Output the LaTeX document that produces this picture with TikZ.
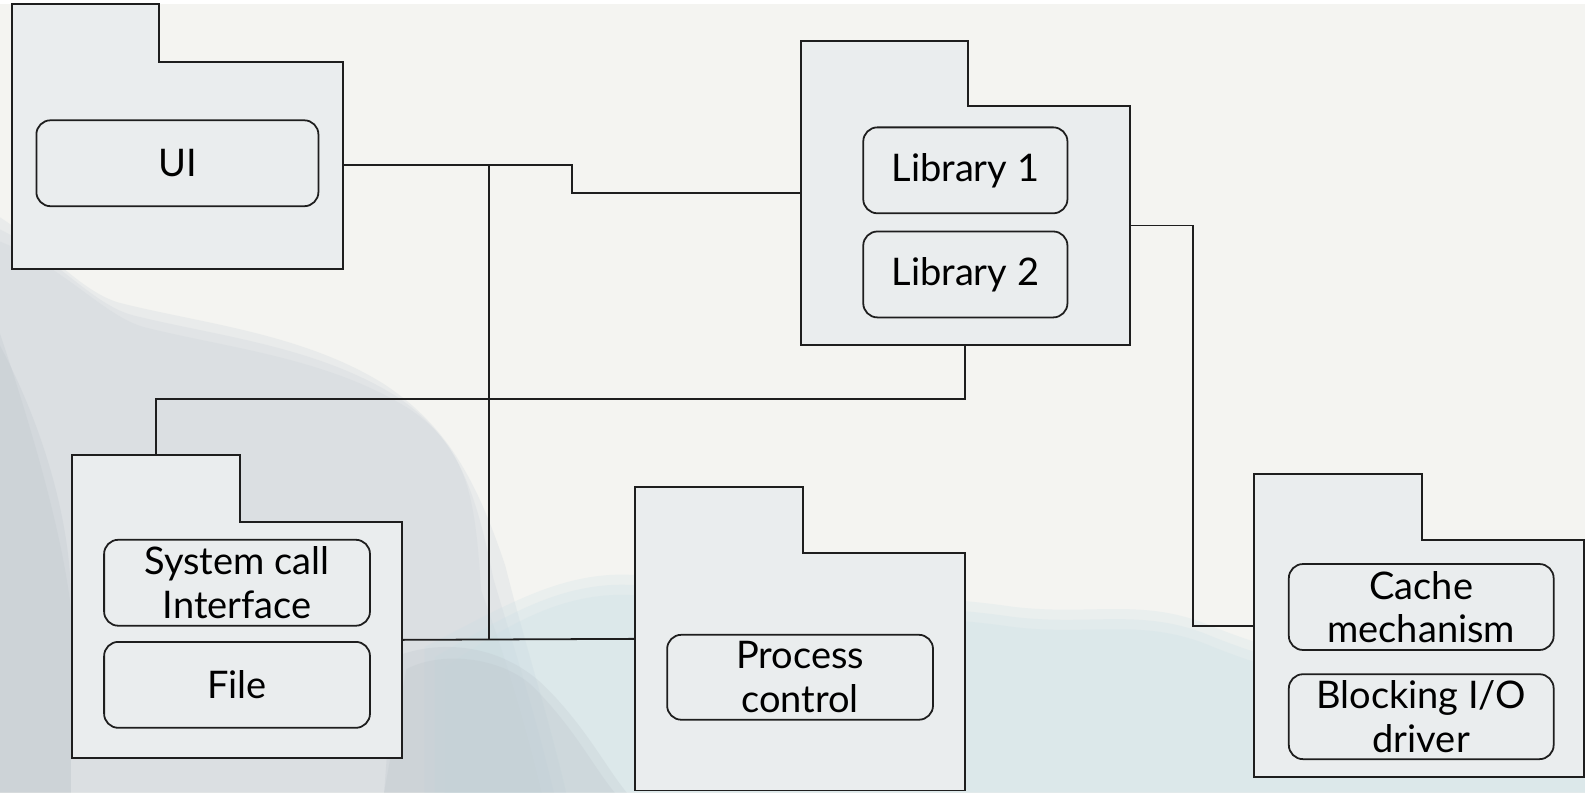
\documentclass[tikz,border=0pt]{standalone}
\usepackage{fontspec}
\setmainfont{Lato}
\usetikzlibrary{fit}

\definecolor{paper}{HTML}{F4F4F1}
\definecolor{pkgfill}{HTML}{EAEDEE}
\definecolor{inkline}{HTML}{1E1E1E}
\definecolor{hillgrey}{HTML}{C6CFD6}
\definecolor{hillteal}{HTML}{C7DEE5}
\definecolor{hilldark}{HTML}{B9C2C9}

\tikzset{
  pkgline/.style={draw=inkline, line width=0.55pt, fill=pkgfill},
  part/.style={draw=inkline, line width=0.5pt, fill=pkgfill, rounded corners=1.4mm,
    inner sep=0pt, align=center, text=black,
    font=\fontsize{10.7}{12.3}\selectfont},
  wire/.style={draw=inkline, line width=0.5pt},
  hook/.style={inner sep=0pt, outer sep=0pt, draw=none, fill=none},
  hill/.style={opacity=0.22},
}

% package outline: name, left, top, tab right, tab bottom, right, bottom
\newcommand\umlpackage[7]{%
  \draw[pkgline] (#2,#3) -| (#4,#5) -| (#6,#7) -| cycle;
  \node[hook, fit={(#2,#3) (#6,#7)}] (#1) {};
  \node[hook, fit={(#2,#5) (#6,#7)}] (#1-body) {};
  \node[hook, fit={(#2,#3) (#4,#5)}] (#1-tab) {};
}

\begin{document}
\begin{tikzpicture}[x=0.1mm, y=-0.1mm]
  \useasboundingbox (0,0) rectangle (1568,784);

  % paper and washed-out hills behind the diagram
  \fill[white] (0,0) rectangle (1568,784);
  \fill[paper] (0,4) rectangle (1568,784);
  % soft-edged grey slope on the left, built up in translucent layers
  \foreach \s in {0,12,24} {
    \fill[hillgrey, hill]
      (0,215+\s) .. controls (40+\s,240+\s) and (80+\s,290+\s) .. (120+\s,300+\s)
      .. controls (200+\s,320+\s) and (300+\s,330+\s) .. (380+\s,380+\s)
      .. controls (440+\s,420+\s) and (470,470+\s) .. (500-\s,560+\s)
      .. controls (520-\s,640) and (540-\s,700) .. (560-\s,784)
      -- (0,784) -- cycle;
  }
  % pale teal ridge along the bottom
  \foreach \s in {0,10,20} {
    \fill[hillteal, hill]
      (420+\s,640+\s) .. controls (500,600+\s) and (560,560+\s) .. (640,570+\s)
      .. controls (760,590+\s) and (900,585+\s) .. (1000,600+\s)
      .. controls (1080,610+\s) and (1130,590+\s) .. (1200,620+\s)
      .. controls (1300,660+\s) and (1450,690+\s) .. (1568,700+\s)
      -- (1568,784) -- (420+\s,784) -- cycle;
  }
  \foreach \s in {0,12} {
    \fill[hilldark, hill]
      (390+\s,650+\s) .. controls (440,630+\s) and (500,640+\s) .. (540-\s,680)
      .. controls (580-\s,720) and (600-\s,760) .. (620-\s,784)
      -- (380,784) -- cycle;
    \fill[hilldark, hill]
      (0,330+\s) .. controls (30+\s,420) and (60+\s,520) .. (70,600)
      -- (70,784) -- (0,784) -- cycle;
  }

  % packages
  \umlpackage{ui}{12}{4}{157}{61}{339}{266}
  \umlpackage{lib}{792}{41}{958}{105}{1118}{341}
  \umlpackage{sys}{71}{450}{237}{516}{398}{750}
  \umlpackage{proc}{628}{482}{794}{547}{955}{782}
  \umlpackage{cache}{1241}{469}{1407}{534}{1567}{769}

  % parts inside the packages
  \node[part, minimum width=27.9mm, minimum height=8.5mm] (uibox) at (175.5,161.5) {UI};
  \node[part, minimum width=20.2mm, minimum height=8.5mm] (lib1) at (955,168.5) {Library 1};
  \node[part, minimum width=20.2mm, minimum height=8.5mm] (lib2) at (955,271.5) {Library 2};
  \node[part, minimum width=26.3mm, minimum height=8.5mm] (syscall) at (234.5,576.5) {System call\\Interface};
  \node[part, minimum width=26.3mm, minimum height=8.5mm] (file) at (234.5,677.5) {File};
  \node[part, minimum width=26.3mm, minimum height=8.4mm] (proccontrol) at (791.5,670) {Process\\control};
  \node[part, minimum width=26.2mm, minimum height=8.5mm] (cachemech) at (1406,600.5) {Cache\\mechanism};
  \node[part, minimum width=26.2mm, minimum height=8.4mm] (blockio) at (1406,709) {Blocking I/O\\driver};

  % routing points
  \coordinate (jogx) at (566,0);
  \coordinate (busx) at (484,0);
  \coordinate (lowy) at (0,395);
  \coordinate (rightx) at (1180,0);

  % connectors
  \draw[wire] (ui-body.east) -- (ui-body.east -| jogx) |- (lib.west);
  \draw[wire] (ui-body.east -| busx) -- (sys-body.east -| busx);
  \draw[wire] (sys-body.east) -- (proc.west);
  \draw[wire] (lib-body.south) -- (lib-body.south |- lowy) -| (sys-tab.north);
  \draw[wire] (lib-body.east) -- (lib-body.east -| rightx) |- (cache.west);
\end{tikzpicture}
\end{document}
